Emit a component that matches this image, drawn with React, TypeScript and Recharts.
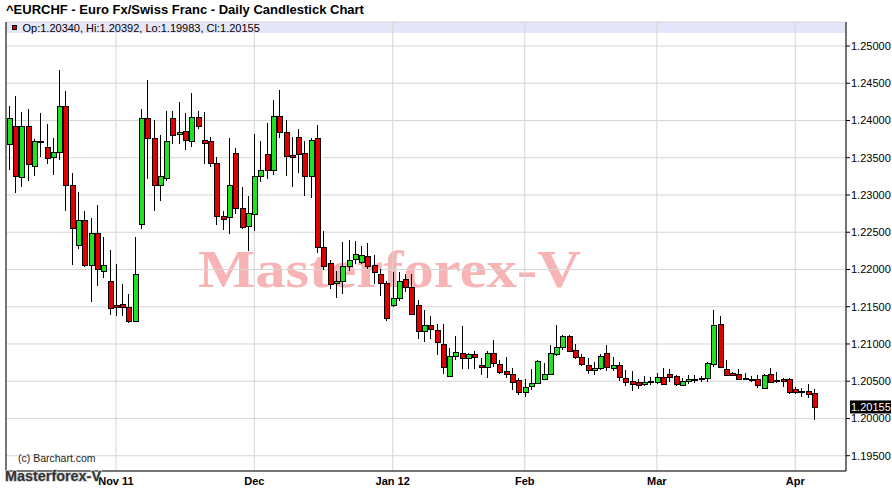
import React from "react"
import { ComposedChart, Bar, XAxis, YAxis, CartesianGrid, ReferenceLine } from "recharts"

// daily EUR/CHF, Oct 7 2011 .. Apr 5 2012
const OPEN = [
  1.2368, 1.2392, 1.2324, 1.2393, 1.2339, 1.2373, 1.2365, 1.2351, 1.2358, 1.2419,
  1.2313, 1.2233, 1.2267, 1.2206, 1.2249, 1.2198, 1.2185, 1.2152, 1.2153, 1.2150,
  1.2131, 1.2261, 1.2404, 1.2376, 1.2313, 1.2323, 1.2403, 1.2382, 1.2386, 1.2373,
  1.2405, 1.2374, 1.2372, 1.2343, 1.2272, 1.2271, 1.2357, 1.2283, 1.2259, 1.2275,
  1.2325, 1.2355, 1.2334, 1.2406, 1.2384, 1.2354, 1.2378, 1.2357, 1.2326, 1.2376,
  1.2230, 1.2209, 1.2182, 1.2185, 1.2205, 1.2214, 1.2210, 1.2218, 1.2206, 1.2194,
  1.2182, 1.2152, 1.2162, 1.2187, 1.2177, 1.2152, 1.2118, 1.2125, 1.2119, 1.2100,
  1.2057, 1.2084, 1.2088, 1.2081, 1.2086, 1.2072, 1.2069, 1.2088, 1.2073, 1.2064,
  1.2060, 1.2051, 1.2036, 1.2044, 1.2048, 1.2053, 1.2060, 1.2087, 1.2096, 1.2111,
  1.2092, 1.2082, 1.2072, 1.2065, 1.2068, 1.2088, 1.2068, 1.2072, 1.2054, 1.2050,
  1.2049, 1.2046, 1.2050, 1.2049, 1.2056, 1.2060, 1.2057, 1.2045, 1.2050, 1.2053,
  1.2054, 1.2054, 1.2073, 1.2127, 1.2067, 1.2061, 1.2060, 1.2055, 1.2053, 1.2053,
  1.2041, 1.2060, 1.2052, 1.2053, 1.2053, 1.2040, 1.2037, 1.2037, 1.2034,
]
const HIGH = [
  1.2420, 1.2433, 1.2412, 1.2415, 1.2375, 1.2410, 1.2395, 1.2377, 1.2468, 1.2440,
  1.2330, 1.2304, 1.2279, 1.2269, 1.2286, 1.2243, 1.2226, 1.2208, 1.2180, 1.2167,
  1.2243, 1.2416, 1.2454, 1.2400, 1.2381, 1.2413, 1.2413, 1.2425, 1.2410, 1.2437,
  1.2413, 1.2412, 1.2378, 1.2351, 1.2279, 1.2377, 1.2363, 1.2311, 1.2299, 1.2382,
  1.2372, 1.2396, 1.2427, 1.2441, 1.2401, 1.2378, 1.2389, 1.2372, 1.2377, 1.2394,
  1.2252, 1.2213, 1.2198, 1.2237, 1.2240, 1.2238, 1.2231, 1.2235, 1.2220, 1.2200,
  1.2185, 1.2197, 1.2197, 1.2194, 1.2194, 1.2159, 1.2146, 1.2137, 1.2127, 1.2127,
  1.2095, 1.2111, 1.2124, 1.2088, 1.2090, 1.2081, 1.2090, 1.2106, 1.2079, 1.2083,
  1.2068, 1.2055, 1.2053, 1.2066, 1.2078, 1.2074, 1.2099, 1.2126, 1.2112, 1.2112,
  1.2100, 1.2087, 1.2081, 1.2076, 1.2087, 1.2099, 1.2083, 1.2076, 1.2065, 1.2064,
  1.2053, 1.2057, 1.2056, 1.2061, 1.2068, 1.2066, 1.2059, 1.2054, 1.2058, 1.2058,
  1.2057, 1.2076, 1.2146, 1.2138, 1.2079, 1.2062, 1.2066, 1.2061, 1.2057, 1.2058,
  1.2060, 1.2068, 1.2063, 1.2054, 1.2054, 1.2042, 1.2041, 1.2046, 1.20392,
]
const LOW = [
  1.2333, 1.2303, 1.2311, 1.2319, 1.2325, 1.2351, 1.2342, 1.2327, 1.2347, 1.2279,
  1.2206, 1.2227, 1.2203, 1.2157, 1.2178, 1.2188, 1.2139, 1.2137, 1.2138, 1.2128,
  1.2130, 1.2255, 1.2321, 1.2279, 1.2292, 1.2319, 1.2369, 1.2369, 1.2361, 1.2365,
  1.2388, 1.2341, 1.2337, 1.2260, 1.2253, 1.2248, 1.2275, 1.2255, 1.2225, 1.2251,
  1.2317, 1.2321, 1.2327, 1.2376, 1.2326, 1.2311, 1.2329, 1.2298, 1.2296, 1.2222,
  1.2199, 1.2174, 1.2162, 1.2167, 1.2198, 1.2208, 1.2208, 1.2201, 1.2181, 1.2164,
  1.2131, 1.2150, 1.2158, 1.2170, 1.2139, 1.2107, 1.2103, 1.2107, 1.2085, 1.2060,
  1.2056, 1.2079, 1.2067, 1.2067, 1.2067, 1.2059, 1.2055, 1.2069, 1.2060, 1.2055,
  1.2038, 1.2032, 1.2029, 1.2038, 1.2047, 1.2051, 1.2059, 1.2084, 1.2092, 1.2090,
  1.2080, 1.2070, 1.2060, 1.2059, 1.2065, 1.2064, 1.2064, 1.2050, 1.2044, 1.2037,
  1.2039, 1.2044, 1.2045, 1.2046, 1.2045, 1.2049, 1.2044, 1.2044, 1.2046, 1.2048,
  1.2049, 1.2049, 1.2069, 1.2068, 1.2058, 1.2057, 1.2052, 1.2052, 1.2049, 1.2041,
  1.2039, 1.2048, 1.2048, 1.2042, 1.2033, 1.2033, 1.2029, 1.2028, 1.19983,
]
const CLOSE = [
  1.2403, 1.2325, 1.2392, 1.2341, 1.2372, 1.2372, 1.2350, 1.2358, 1.2420, 1.2314,
  1.2256, 1.2267, 1.2206, 1.2249, 1.2200, 1.2206, 1.2148, 1.2149, 1.2150, 1.2131,
  1.2194, 1.2404, 1.2376, 1.2314, 1.2325, 1.2372, 1.2381, 1.2385, 1.2374, 1.2405,
  1.2393, 1.2370, 1.2343, 1.2272, 1.2268, 1.2314, 1.2283, 1.2257, 1.2276, 1.2325,
  1.2333, 1.2334, 1.2406, 1.2385, 1.2353, 1.2351, 1.2355, 1.2325, 1.2374, 1.2230,
  1.2205, 1.2181, 1.2184, 1.2205, 1.2213, 1.2221, 1.2219, 1.2205, 1.2196, 1.2182,
  1.2135, 1.2162, 1.2185, 1.2177, 1.2140, 1.2118, 1.2126, 1.2120, 1.2102, 1.2069,
  1.2084, 1.2089, 1.2081, 1.2086, 1.2083, 1.2069, 1.2088, 1.2074, 1.2062, 1.2060,
  1.2049, 1.2036, 1.2042, 1.2047, 1.2077, 1.2060, 1.2088, 1.2096, 1.2111, 1.2091,
  1.2082, 1.2073, 1.2065, 1.2068, 1.2084, 1.2069, 1.2072, 1.2056, 1.2049, 1.2046,
  1.2045, 1.2049, 1.2049, 1.2056, 1.2046, 1.2056, 1.2046, 1.2050, 1.2053, 1.2052,
  1.2053, 1.2074, 1.2126, 1.2069, 1.2059, 1.2058, 1.2053, 1.2054, 1.2052, 1.2045,
  1.2058, 1.2049, 1.2050, 1.2050, 1.2036, 1.2036, 1.2036, 1.2033, 1.20155,
]

// bar index of the first session of each month
const MONTH_TICKS = [17, 39, 61, 82, 103, 125]
const MONTH_LABELS = ["Nov 11", "Dec", "Jan 12", "Feb", "Mar", "Apr"]
const PRICE_TICKS = [1.195, 1.2, 1.205, 1.21, 1.215, 1.22, 1.225, 1.23, 1.235, 1.24, 1.245, 1.25]

const W = 892
const H = 489
const X_DOMAIN: [number, number] = [-0.48, 133.07]
const Y_DOMAIN: [number, number] = [1.19295, 1.25322]

const FONT = '"Liberation Sans", Arial, sans-serif'
const UP = "#22e022"
const DOWN = "#e00000"

const data = OPEN.map((o, i) => ({
  i,
  open: o,
  high: HIGH[i],
  low: LOW[i],
  close: CLOSE[i],
  range: [LOW[i], HIGH[i]],
}))

const last = data[data.length - 1]

function Candle(props: any) {
  const { x, y, width, height, payload } = props
  if (!payload || x == null) return null
  const c = Math.round(x + width / 2)
  const top = Math.min(y, y + height)
  const bottom = Math.max(y, y + height)
  const k = (bottom - top) / (payload.high - payload.low)
  const py = (v: number) => top + (payload.high - v) * k
  const up = payload.close > payload.open
  const t = Math.round(py(Math.max(payload.open, payload.close)))
  const b = Math.max(Math.round(py(Math.min(payload.open, payload.close))), t + 1)
  return (
    <g>
      <rect x={c} y={Math.round(top)} width={1} height={Math.round(bottom) - Math.round(top)} fill="#000" />
      <rect x={c - 2} y={t} width={6} height={b - t + 1} fill="#000" />
      {b - t >= 2 && <rect x={c - 1} y={t + 1} width={4} height={b - t - 1} fill={up ? UP : DOWN} />}
    </g>
  )
}

function LastPrice(props: any) {
  const vb = props.viewBox
  if (!vb) return null
  const bx = vb.x + vb.width + 4
  return (
    <g>
      <rect x={bx} y={vb.y - 6.5} width={41} height={13} fill="#000" />
      <text x={bx + 1} y={vb.y + 4} fontSize={11} fontFamily={FONT} fill="#fff">
        {last.close.toFixed(5)}
      </text>
    </g>
  )
}

export default function App() {
  return (
    <div style={{ position: "absolute", left: 0, top: 0, width: W, height: H, background: "#fff", overflow: "hidden" }}>
      {/* under the chart: header band + watermark */}
      <svg width={W} height={H} style={{ position: "absolute", left: 0, top: 0 }}>
        <rect x={6} y={22} width={840} height={11} fill="#e6e6fa" />
        <text
          x={198}
          y={287}
          fontSize={53}
          fontWeight={700}
          fontFamily='"Liberation Serif", "Times New Roman", serif'
          fill="#f8b4b4"
          textLength={383}
          lengthAdjust="spacingAndGlyphs"
        >
          Masterforex-V
        </text>
      </svg>

      <div style={{ position: "absolute", left: 0, top: 0 }}>
        <ComposedChart width={W} height={H} data={data} margin={{ top: 22, right: 0, bottom: 0, left: 6 }}>
          <CartesianGrid stroke="#d5d5d5" />
          <XAxis
            dataKey="i"
            type="number"
            domain={X_DOMAIN}
            allowDataOverflow
            ticks={MONTH_TICKS}
            interval={0}
            tickFormatter={(v: number) => MONTH_LABELS[MONTH_TICKS.indexOf(v)] ?? ""}
            height={18}
            tickLine={false}
            tickSize={4}
            tickMargin={2}
            axisLine={{ stroke: "#000" }}
            tick={{ fontSize: 11, fontWeight: 700, fill: "#000", fontFamily: FONT }}
          />
          <YAxis
            orientation="right"
            type="number"
            domain={Y_DOMAIN}
            allowDataOverflow
            ticks={PRICE_TICKS}
            interval={0}
            width={46}
            tickSize={4}
            tickMargin={1}
            tickFormatter={(v: number) => v.toFixed(5)}
            axisLine={{ stroke: "#000" }}
            tickLine={{ stroke: "#000" }}
            tick={{ fontSize: 11, fill: "#000", fontFamily: FONT }}
          />
          <ReferenceLine x={X_DOMAIN[0]} stroke="#000" />
          <Bar dataKey="range" barSize={6} shape={(p: any) => <Candle {...p} />} isAnimationActive={false} />
          <ReferenceLine y={last.close} stroke="none" label={(p: any) => <LastPrice {...p} />} />
        </ComposedChart>
      </div>

      {/* texts over the chart */}
      <svg width={W} height={H} style={{ position: "absolute", left: 0, top: 0, pointerEvents: "none" }}>
        <text x={6} y={13.5} fontSize={13} fontWeight={700} fontFamily={FONT} fill="#000">
          ^EURCHF - Euro Fx/Swiss Franc - Daily Candlestick Chart
        </text>
        <rect x={12.5} y={25.5} width={4} height={4} fill={DOWN} stroke="#000" />
        <text x={22.5} y={31.5} fontSize={11} fontFamily={FONT} fill="#000">
          {`Op:${last.open.toFixed(5)}, Hi:${last.high.toFixed(5)}, Lo:${last.low.toFixed(5)}, Cl:${last.close.toFixed(5)}`}
        </text>
        <text x={18} y={461.5} fontSize={10.5} fontFamily={FONT} fill="#222">
          (c) Barchart.com
        </text>
        <text
          x={5}
          y={481}
          fontSize={14}
          fontWeight={700}
          fontFamily={FONT}
          fill="#333"
          stroke="#d0d0d0"
          strokeWidth={1.5}
          paintOrder="stroke"
          textLength={96}
          lengthAdjust="spacingAndGlyphs"
        >
          Masterforex-V
        </text>
      </svg>
    </div>
  )
}
